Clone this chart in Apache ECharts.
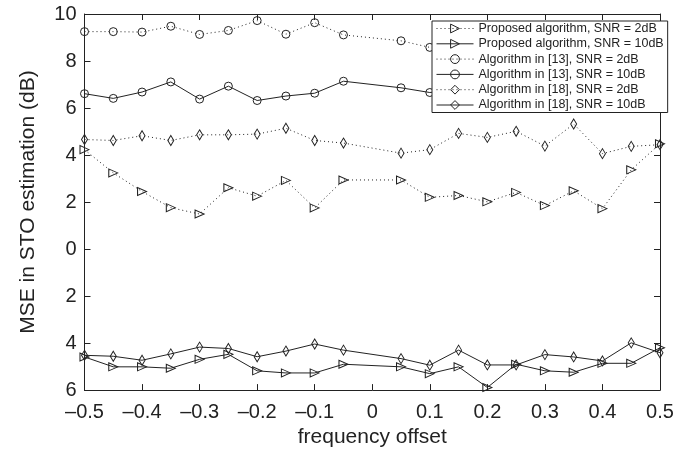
<!DOCTYPE html>
<html>
<head>
<meta charset="utf-8">
<script src="https://cdn.jsdelivr.net/npm/echarts@6/dist/echarts.min.js"></script>
<style>
  html, body { margin: 0; padding: 0; background: #fff; }
  #chart { width: 690px; height: 453px; }
</style>
</head>
<body>
<div id="chart"></div>
<script>
// frequency offsets (no point at 0)
var offsets = [-0.5, -0.45, -0.4, -0.35, -0.3, -0.25, -0.2, -0.15, -0.1, -0.05,
  0.05, 0.1, 0.15, 0.2, 0.25, 0.3, 0.35, 0.4, 0.45, 0.5];

var proposed2 = [4.23, 3.24, 2.45, 1.76, 1.49, 2.61, 2.25, 2.92, 1.75, 2.94,
  2.94, 2.20, 2.28, 2.01, 2.41, 1.85, 2.48, 1.72, 3.37, 4.48];
var proposed10 = [-4.59, -5.01, -5.01, -5.07, -4.69, -4.48, -5.18, -5.27, -5.27, -4.90,
  -5.01, -5.30, -5.01, -5.89, -4.90, -5.18, -5.24, -4.86, -4.86, -4.20];
// values from 0.15 to 0.45 are hidden behind the legend in the picture
var alg13_2 = [9.25, 9.25, 9.23, 9.48, 9.13, 9.30, 9.72, 9.14, 9.63, 9.11,
  8.86, 8.58, 8.70, 8.80, 8.75, 8.85, 8.90, 8.80, 8.95, 9.04];
var alg13_10 = [6.61, 6.41, 6.68, 7.11, 6.38, 6.93, 6.32, 6.51, 6.63, 7.14,
  6.86, 6.66, 6.80, 6.70, 6.90, 6.75, 6.85, 6.80, 6.90, 6.97];
var alg18_2 = [4.66, 4.62, 4.82, 4.62, 4.86, 4.86, 4.89, 5.14, 4.62, 4.51,
  4.08, 4.23, 4.92, 4.75, 5.01, 4.38, 5.32, 4.06, 4.37, 4.44];
var alg18_10 = [-4.52, -4.56, -4.73, -4.46, -4.17, -4.23, -4.58, -4.34, -4.04, -4.30,
  -4.66, -4.94, -4.30, -4.93, -4.93, -4.49, -4.59, -4.76, -3.99, -4.41];

var names = [
  'Proposed algorithm, SNR = 2dB',
  'Proposed algorithm, SNR = 10dB',
  'Algorithm in [13], SNR = 2dB',
  'Algorithm in [13], SNR = 10dB',
  'Algorithm in [18], SNR = 2dB',
  'Algorithm in [18], SNR = 10dB'
];

var ink = '#222';
var font = 'Liberation Sans, Arial, Helvetica, sans-serif';

function pairs(ys) {
  return offsets.map(function (x, i) { return [x, ys[i]]; });
}

function makeSeries(name, ys, dashed, symbol) {
  var s = {
    name: name,
    type: 'line',
    data: pairs(ys),
    symbol: symbol,
    symbolSize: 8,
    showAllSymbol: true,
    lineStyle: { color: ink, width: 1, type: dashed ? [1, 3] : 'solid' },
    itemStyle: { color: 'rgba(0,0,0,0)', borderColor: ink, borderWidth: 1 },
    emphasis: { disabled: true },
    animation: false
  };
  if (symbol === 'triangle') {
    s.symbolRotate = -90;
    s.symbolSize = [8, 9];
  }
  if (symbol === 'diamond') {
    s.symbolSize = [6, 10];
  }
  return s;
}

function fmtX(v) {
  if (Math.abs(v) < 1e-9) return '0';
  var t = (Math.round(v * 10) / 10).toFixed(1);
  return t.replace('-', '\u2013');
}

function boxAxis(extra) {
  var a = {
    type: 'value',
    axisLine: { show: true, onZero: false, lineStyle: { color: ink, width: 1 } },
    axisTick: { show: true, inside: true, length: 6, lineStyle: { color: ink } },
    splitLine: { show: false }
  };
  for (var k in extra) a[k] = extra[k];
  return a;
}

var chart = echarts.init(document.getElementById('chart'));

var option = {
  backgroundColor: '#fff',
  animation: false,
  grid: { left: 84.5, right: 30, top: 14, bottom: 60.5 },
  legend: {
    orient: 'vertical',
    left: 432,
    top: 21,
    padding: [1, 4, 1, 4],
    itemGap: 2.3,
    itemWidth: 37,
    itemHeight: 11,
    backgroundColor: '#fff',
    borderColor: ink,
    borderWidth: 1,
    borderRadius: 0,
    lineStyle: { width: 1 },
    itemStyle: { borderWidth: 1 },
    textStyle: { color: ink, fontSize: 12.5, lineHeight: 12, fontFamily: font },
    data: names
  },
  xAxis: [
    boxAxis({
      min: -0.5, max: 0.5, interval: 0.1,
      name: 'frequency offset',
      nameLocation: 'middle',
      nameGap: 32,
      nameTextStyle: { color: ink, fontSize: 21, fontFamily: font },
      axisLabel: { color: ink, fontSize: 20, fontFamily: font, margin: 12, formatter: fmtX }
    }),
    boxAxis({
      position: 'top', min: -0.5, max: 0.5, interval: 0.1,
      axisLabel: { show: false }
    })
  ],
  yAxis: [
    boxAxis({
      min: -6, max: 10, interval: 2,
      name: 'MSE in STO estimation (dB)',
      nameLocation: 'middle',
      nameGap: 46,
      nameTextStyle: { color: ink, fontSize: 21, fontFamily: font },
      axisLabel: {
        color: ink, fontSize: 20, fontFamily: font, margin: 8,
        formatter: function (v) { return String(Math.abs(v)); }
      }
    }),
    boxAxis({
      position: 'right', min: -6, max: 10, interval: 2,
      axisLabel: { show: false }
    })
  ],
  series: [
    makeSeries(names[0], proposed2, true, 'triangle'),
    makeSeries(names[1], proposed10, false, 'triangle'),
    makeSeries(names[2], alg13_2, true, 'circle'),
    makeSeries(names[3], alg13_10, false, 'circle'),
    makeSeries(names[4], alg18_2, true, 'diamond'),
    makeSeries(names[5], alg18_10, false, 'diamond')
  ]
};

chart.setOption(option);
</script>
</body>
</html>
